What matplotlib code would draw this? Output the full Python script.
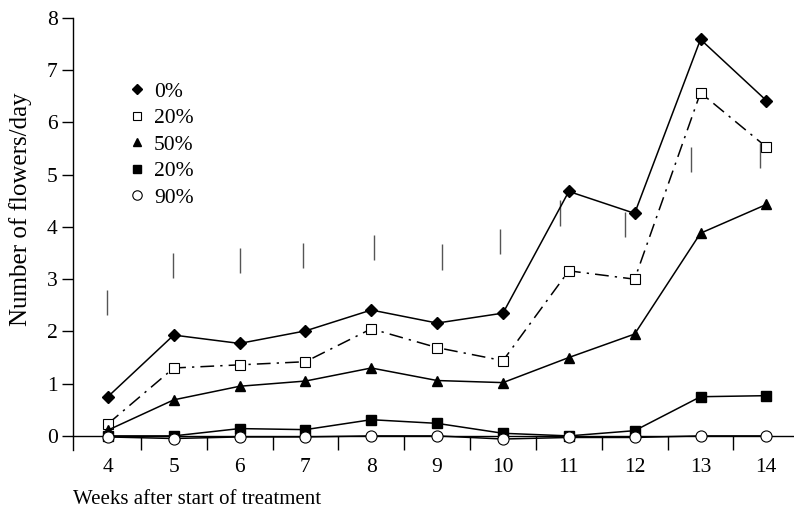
import matplotlib.pyplot as plt
from matplotlib.lines import Line2D

weeks = [4, 5, 6, 7, 8, 9, 10, 11, 12, 13, 14]

shade_0 = [0.75, 1.93, 1.77, 2.01, 2.41, 2.16, 2.35, 4.68, 4.26, 7.59, 6.42]
shade_20 = [0.23, 1.30, 1.36, 1.42, 2.05, 1.69, 1.44, 3.16, 3.00, 6.57, 5.53]
shade_50 = [0.11, 0.69, 0.95, 1.05, 1.30, 1.06, 1.02, 1.50, 1.95, 3.88, 4.43]
shade_20b = [0.00, 0.00, 0.14, 0.12, 0.31, 0.24, 0.05, 0.00, 0.10, 0.75, 0.77]
shade_90 = [-0.02, -0.05, -0.02, -0.02, 0.00, 0.00, -0.06, -0.03, -0.03, 0.00, 0.00]

# floating LSD bars (x position, bottom, top)
bar_x = [3.98, 4.99, 6.0, 6.96, 8.04, 9.08, 9.96, 10.86, 11.85, 12.85, 13.91]
bar_lo = [2.32, 3.02, 3.12, 3.22, 3.37, 3.18, 3.48, 4.02, 3.81, 5.05, 5.13]
bar_hi = [2.79, 3.50, 3.60, 3.69, 3.85, 3.67, 3.96, 4.52, 4.29, 5.53, 5.61]

labels = ["0%", "20%", "50%", "20%", "90%"]


def main():
    plt.rcParams['font.family'] = ['Liberation Serif', 'DejaVu Serif']
    fs = 15.5
    plt.rcParams['font.size'] = fs

    fig = plt.figure(figsize=(7.94, 5.13), dpi=100)
    ax = fig.add_axes([73 / 794, 1 - 450 / 513, 721 / 794, 432 / 513])

    k = 'black'
    styles = [
        dict(marker='D', ms=6, mfc=k, mec=k, ls='-'),
        dict(marker='s', ms=7.5, mfc='white', mec=k, mew=0.8, ls=(0, (9, 4, 1.5, 4))),
        dict(marker='^', ms=7.5, mfc=k, mec=k, ls='-'),
        dict(marker='s', ms=7, mfc=k, mec=k, ls='-'),
        dict(marker='o', ms=8, mfc='white', mec=k, mew=0.8, ls='-'),
    ]
    series = [shade_0, shade_20, shade_50, shade_20b, shade_90]

    ax.vlines(bar_x, bar_lo, bar_hi, color='#555555', lw=1.0)

    for vals, st in zip(series, styles):
        ax.plot(weeks, vals, color=k, lw=1.1, zorder=3, clip_on=False, **st)

    # legend shows markers only, a little smaller than in the plot
    handles = []
    for st in styles:
        opts = {a: b for a, b in st.items() if a != 'ls'}
        opts['ms'] = st['ms'] * 0.85
        handles.append(Line2D([], [], color=k, lw=0, **opts))
    ax.legend(handles, labels, loc='upper left', bbox_to_anchor=(0.075, 0.853),
              frameon=False, handlelength=0.9, handletextpad=0.35,
              labelspacing=0.3, borderpad=0, borderaxespad=0, fontsize=fs)

    ax.set_xlim(3.47, 14.42)
    ax.set_ylim(-0.27, 8)

    for s in ['top', 'right']:
        ax.spines[s].set_visible(False)
    ax.spines['bottom'].set_position(('data', 0))
    ax.spines['bottom'].set_bounds(3.47, 14.42)
    for s in ['left', 'bottom']:
        ax.spines[s].set_linewidth(1.0)

    ax.set_xticks(weeks)
    ax.set_xticks([w + 0.5 for w in weeks[:-1]], minor=True)
    ax.tick_params(axis='x', which='major', length=0, pad=16, labelsize=fs)
    ax.tick_params(axis='x', which='minor', length=10, width=1.0, direction='out')
    ax.set_yticks(range(0, 9))
    ax.tick_params(axis='y', length=8, width=1.0, direction='out', pad=3, labelsize=fs)

    ax.set_xlabel("Weeks after start of treatment", loc='left', labelpad=9, fontsize=15)
    ax.set_ylabel("Number of flowers/day", fontsize=18)
    ax.yaxis.set_label_coords(-0.057, 0.558)

    fig.savefig("out.png", dpi=100)


if __name__ == "__main__":
    main()
